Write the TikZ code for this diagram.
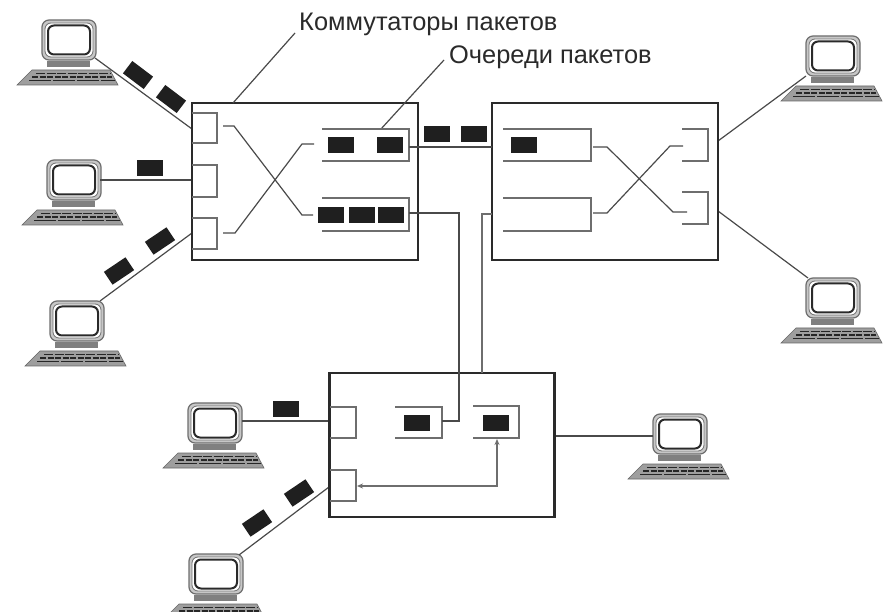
\documentclass[tikz,border=0pt]{standalone}
\usepackage{fontspec}
\setmainfont{Liberation Sans}
\usetikzlibrary{arrows.meta}
\definecolor{ink}{HTML}{2A2A2A}
\definecolor{wire}{HTML}{4A4A4A}
\definecolor{soft}{HTML}{6E6E6E}
\tikzset{
  x=1pt,y=-1pt,
  switchbox/.style={draw=ink,line width=2.2pt,fill=white,minimum width=226pt,minimum height=157pt,inner sep=0pt},
  lowbox/.style={draw=ink,line width=2.2pt,fill=white,minimum width=225pt,minimum height=144pt,inner sep=0pt},
  packet/.style={fill=black!88,draw=none,minimum width=26pt,minimum height=16pt,inner sep=0pt},
  tilted/.style={packet,minimum height=15.5pt},
  wireline/.style={draw=wire,line width=1.2pt},
  thinline/.style={draw=soft,line width=1.3pt},
  bracket/.style={draw=soft,line width=1.4pt},
  label/.style={font=\fontsize{25.4}{27}\selectfont,text=ink,inner sep=0pt,anchor=base west},
  computer/.pic={
    \draw[draw=soft,fill=black!22,line width=1.2pt,rounded corners=7pt] (-27,-20) rectangle (27,20);
    \draw[draw=soft,fill=white,line width=.8pt,rounded corners=6pt] (-24,-17) rectangle (24,17);
    \node[coordinate] (-mon) at (0,0) {};
    \draw[draw=ink,fill=white,line width=2pt,rounded corners=6pt] (-21,-14.5) rectangle (21,14.5);
    \fill[black!50] (-22,21) rectangle (21,27);
    \fill[black!38] (-37,30) -- (41,30) -- (49,45) -- (-52,45) -- cycle;
    \draw[black!60,line width=.6pt] (-37,30) -- (41,30) -- (49,45) -- (-52,45) -- cycle;
    \draw[black!85,line width=1.1pt,dash pattern=on 9pt off 1.5pt] (-33,33.5) -- (41,33.5);
    \draw[black!85,line width=1.1pt,dash pattern=on 6pt off 1.5pt] (-37,37) -- (43,37);
    \draw[black!85,line width=1.1pt,dash pattern=on 22pt off 2pt] (-40,40.5) -- (46,40.5);
  }
}
\begin{document}
\begin{tikzpicture}
\clip (0,0) rectangle (884,612);
\fill[white] (0,0) rectangle (884,612);

% computers
\pic (c1) at (69,40) {computer};
\pic (c2) at (74,180) {computer};
\pic (c3) at (77,321) {computer};
\pic (c4) at (833,56) {computer};
\pic (c5) at (833,298) {computer};
\pic (c6) at (215,423) {computer};
\pic (c7) at (680,434) {computer};
\pic (c8) at (216,574) {computer};

% free ends
\coordinate (c1e) at (95,58);
\coordinate (c2e) at (100,180);
\coordinate (c3e) at (100,301);
\coordinate (c4e) at (806,76);
\coordinate (c5e) at (808,278);
\coordinate (c6e) at (242,421);
\coordinate (c7e) at (653,436);
\coordinate (c8e) at (239,555);
\coordinate (s1a) at (192,129);
\coordinate (s1b) at (192,180);
\coordinate (s1c) at (192,233);
\coordinate (s2a) at (718,141);
\coordinate (s2b) at (718,211);
\coordinate (s3a) at (329,421);
\coordinate (s3b) at (329,487);
\coordinate (s3c) at (555,436);

% links behind the boxes
\draw[wireline] (c1e) -- (s1a);
\draw[wireline] (c2e) -- (s1b);
\draw[wireline] (c3e) -- (s1c);
\draw[wireline] (c4e) -- (s2a);
\draw[wireline] (c5e) -- (s2b);
\draw[wireline] (c6e) -- (s3a);
\draw[wireline] (c7e) -- (s3c);
\draw[wireline] (c8e) -- (s3b);

% switches
\node[switchbox] (sw1) at (305,181.5) {};
\node[switchbox] (sw2) at (605,181.5) {};
\node[lowbox] (sw3) at (442,445) {};

% leaders
\node[label] (t1) at (299,31) {Коммутаторы пакетов};
\node[label] (t2) at (449,64) {Очереди пакетов};
\coordinate (t1e) at (295,33);
\coordinate (t2e) at (444,60);
\draw[wireline] (t1e) -- (233,103);
\draw[wireline] (t2e) -- (381,129);

% switch 1
\draw[bracket] (192,113) -- (217,113) -- (217,143) -- (192,143);
\draw[bracket] (192,165) -- (217,165) -- (217,197) -- (192,197);
\draw[bracket] (192,218) -- (217,218) -- (217,249) -- (192,249);
\draw[wireline] (223,126) -- (234,126) -- (302,215) -- (313,215);
\draw[wireline] (223,233) -- (235,233) -- (302,144) -- (314,144);
\draw[bracket] (322,129) -- (409,129) -- (409,161) -- (322,161);
\draw[bracket] (322,198) -- (409,198) -- (409,231) -- (322,231);
\node[packet] (p1) at (341,145) {};
\node[packet] (p2) at (389.5,145) {};
\node[packet] (p3) at (330.5,215) {};
\node[packet] (p4) at (362,215) {};
\node[packet] (p5) at (390.5,215) {};

% switch 2
\draw[bracket] (503,129) -- (591,129) -- (591,161) -- (503,161);
\draw[bracket] (503,198) -- (591,198) -- (591,231) -- (503,231);
\node[packet] (p6) at (524,145) {};
\draw[wireline] (593,147) -- (607,147) -- (673,212) -- (687,212);
\draw[wireline] (593,213) -- (607,213) -- (670,146) -- (683,146);
\draw[bracket] (682,129) -- (708,129) -- (708,161) -- (682,161);
\draw[bracket] (682,192) -- (708,192) -- (708,224) -- (682,224);

% switch 3
\draw[bracket] (330,407) -- (356,407) -- (356,438) -- (330,438);
\draw[bracket] (330,470) -- (356,470) -- (356,501) -- (330,501);
\draw[bracket] (395,407) -- (442,407) -- (442,438) -- (395,438);
\draw[bracket] (473,406) -- (519,406) -- (519,438) -- (473,438);
\node[packet] (p7) at (417,423) {};
\node[packet] (p8) at (495.5,423) {};
\draw[thinline,{Stealth[length=6pt,width=5pt]}-{Stealth[length=6pt,width=5pt]}] (357,486) -- (497,486) -- (497,439);

% inter-switch links
\draw[wireline] (409,147) -- (492,147);
\draw[wireline] (409,213) -- (459,213) -- (459,421) -- (442,421);
\draw[thinline] (492,214) -- (482,214) -- (482,373);
\node[packet] (p9) at (437,134.5) {};
\node[packet] (p10) at (473.5,134.5) {};

% packets on access links
\node[tilted,rotate=-37] (p11) at (138,75) {};
\node[tilted,rotate=-37] (p12) at (171,99) {};
\node[packet] (p13) at (150,168) {};
\node[tilted,rotate=34] (p14) at (160,241) {};
\node[tilted,rotate=34] (p15) at (119,271) {};
\node[packet] (p16) at (285.5,409) {};
\node[tilted,rotate=34] (p17) at (299,493) {};
\node[tilted,rotate=34] (p18) at (257,523) {};
\end{tikzpicture}
\end{document}
